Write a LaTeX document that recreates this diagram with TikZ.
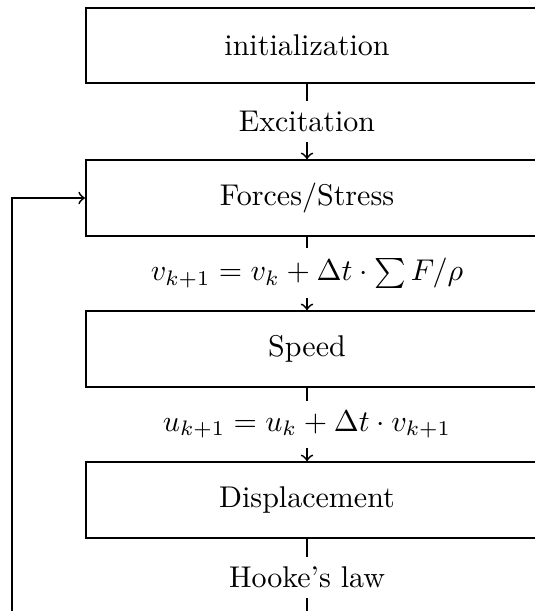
\documentclass[tikz,border=0pt]{standalone}
\begin{document}
\begin{tikzpicture}[x=0.33333pt,y=-0.33333pt,
  box/.style={draw, line width=0.65pt, minimum width=220pt, minimum height=25.2pt, anchor=west, inner sep=0pt},
  lbl/.style={inner sep=0pt},
  edge/.style={draw, line width=0.6pt},
  elbl/.style={fill=white}]
\useasboundingbox (0,0) rectangle (535,611);
\clip (0,0) rectangle (535,611);
\node[box] (b1) at (85,45.5) {};
\node[lbl] (t1) at (307,45.5) {initialization};
\node[box] (b2) at (85,198) {};
\node[lbl] (t2) at (307,198) {Forces/Stress};
\node[box] (b3) at (85,349) {};
\node[lbl] (t3) at (307,349) {Speed};
\node[box] (b4) at (85,500) {};
\node[lbl] (t4) at (307,500) {Displacement};
\coordinate (c5) at (307,616);
\coordinate (fb) at (12,640);
\draw[edge,->] (b1.south -| t1) -- node[elbl]{Excitation} (b2.north -| t2);
\draw[edge,->] (b2.south -| t2) -- node[elbl]{$v_{k+1} = v_k + \Delta t \cdot \sum F/\rho$} (b3.north -| t3);
\draw[edge,->] (b3.south -| t3) -- node[elbl]{$u_{k+1} = u_k + \Delta t \cdot v_{k+1}$} (b4.north -| t4);
\draw[edge] (b4.south -| t4) -- node[elbl]{Hooke's law} (c5);
\draw[edge,->] (fb) |- (b2.west);
\end{tikzpicture}
\end{document}
